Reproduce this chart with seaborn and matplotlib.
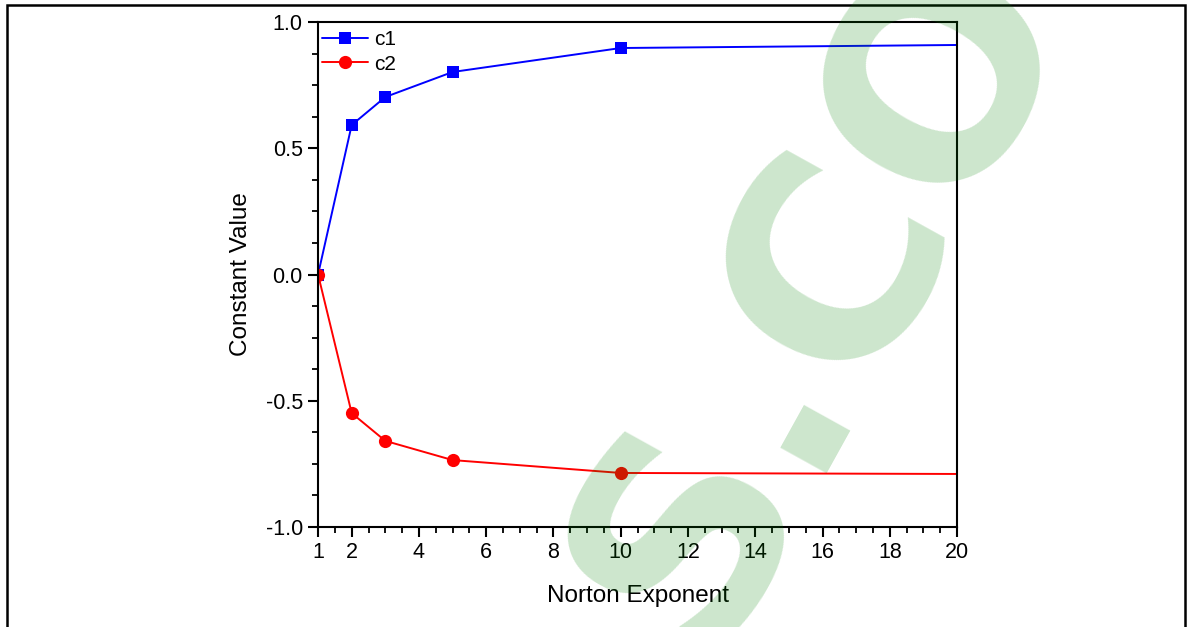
import matplotlib
matplotlib.use("Agg")
import matplotlib.pyplot as plt
import seaborn as sns
import numpy as np
import pandas as pd
from matplotlib.ticker import MultipleLocator, FixedLocator, FormatStrFormatter
from matplotlib.patches import Rectangle

# Data
norton_exponent = [1, 2, 3, 5, 10, 20]
c1_values = [0.0, 0.592, 0.703, 0.802, 0.897, 0.909]
c2_values = [0.0, -0.549, -0.659, -0.735, -0.786, -0.790]
series_names = ["c1", "c2"]
x_label = "Norton Exponent"
y_label = "Constant Value"
x_major_ticks = [1, 2, 4, 6, 8, 10, 12, 14, 16, 18, 20]
watermark_text = "S.CO"

sns.set_theme(style="ticks")
plt.rcParams['font.family'] = ['Liberation Sans', 'DejaVu Sans']
plt.rcParams['axes.unicode_minus'] = False

fig = plt.figure(figsize=(11.89, 6.27), dpi=100)
ax = fig.add_axes([0.2675, 0.1595, 0.8049 - 0.2675, 0.9649 - 0.1595])

df1 = pd.DataFrame({"x": norton_exponent, "y": c1_values})
df2 = pd.DataFrame({"x": norton_exponent, "y": c2_values})
n = len(norton_exponent)
sns.lineplot(data=df1, x="x", y="y", ax=ax, color="#0000ff", marker="s",
             markersize=8.5, markeredgewidth=0, linewidth=1.4,
             markevery=list(range(n - 1)), label=series_names[0])
sns.lineplot(data=df2, x="x", y="y", ax=ax, color="#ff0000", marker="o",
             markersize=9.5, markeredgewidth=0, linewidth=1.4,
             markevery=list(range(n - 1)), label=series_names[1])

ax.set_xlim(1, 20)
ax.set_ylim(-1, 1)
ax.xaxis.set_major_locator(FixedLocator(x_major_ticks))
ax.xaxis.set_minor_locator(MultipleLocator(0.5))
ax.yaxis.set_major_locator(MultipleLocator(0.5))
ax.yaxis.set_minor_locator(MultipleLocator(0.125))
ax.yaxis.set_major_formatter(FormatStrFormatter("%.1f"))

for s in ax.spines.values():
    s.set_linewidth(1.5)
    s.set_color("black")
ax.tick_params(axis="both", which="major", direction="out", length=7, width=1.5,
               labelsize=15.5, colors="black", pad=4)
ax.tick_params(axis="both", which="minor", direction="out", length=4, width=1.3,
               colors="black")
ax.tick_params(top=False, right=False, which="both")

ax.set_xlabel(x_label, fontsize=17.5, labelpad=16, color="black")
ax.set_ylabel(y_label, fontsize=17.5, labelpad=10, color="black")

leg = ax.legend(loc="upper left", bbox_to_anchor=(-0.007, 1.0), frameon=False,
                fontsize=15, handlelength=2.2, borderaxespad=0.3,
                handletextpad=0.3, labelspacing=0.25, borderpad=0.1)
for t in leg.get_texts():
    t.set_color("black")

# Watermark overlay
fig.text(820 / 1189, 1 - 292 / 627, watermark_text, fontsize=200,
         fontweight="bold", color="#008000", alpha=0.2, rotation=61,
         ha="center", va="center", zorder=20, family="DejaVu Sans")

# Outer frame
fig.patches.append(Rectangle((7 / 1189, -0.05), (1185 - 7) / 1189, 1 - 5 / 627 + 0.05,
                             transform=fig.transFigure, fill=False,
                             edgecolor="black", linewidth=1.8, zorder=1))

fig.savefig("out.png", dpi=100)
